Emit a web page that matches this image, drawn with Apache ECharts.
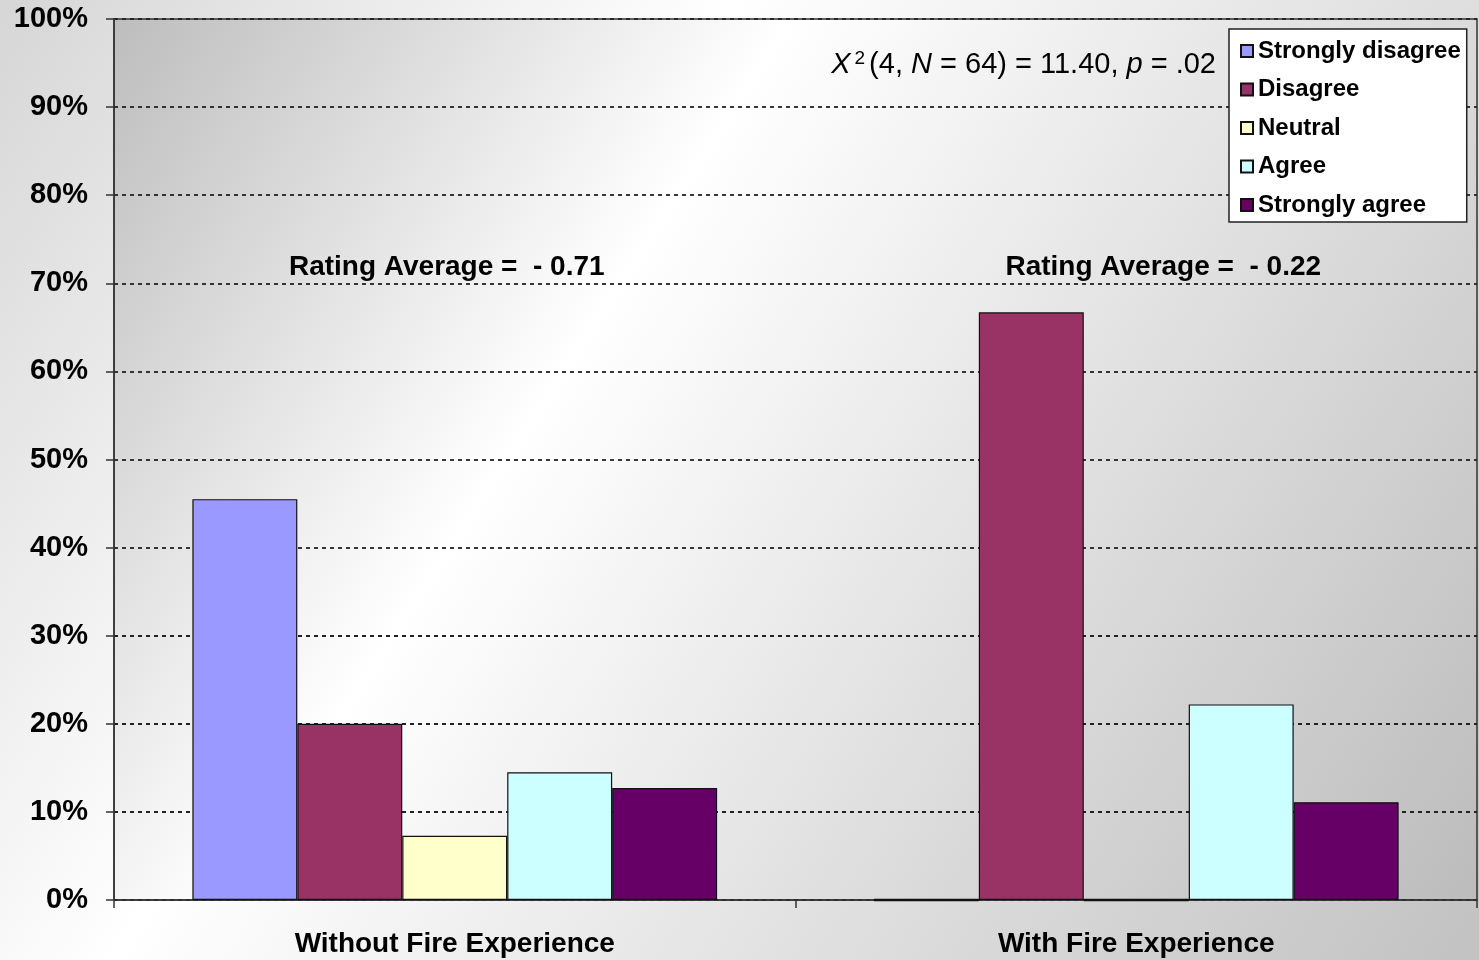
<!DOCTYPE html>
<html>
<head>
<meta charset="utf-8">
<script src="https://cdn.jsdelivr.net/npm/echarts@6/dist/echarts.min.js"></script>
<style>
  html, body { margin: 0; padding: 0; }
  #chart { width: 1479px; height: 960px; }
</style>
</head>
<body>
<div id="chart"></div>
<script>
// ---- data ----
var categories = ['Without Fire Experience', 'With Fire Experience'];
var seriesNames = ['Strongly disagree', 'Disagree', 'Neutral', 'Agree', 'Strongly agree'];
var stronglyDisagree = [45.5, 0];
var disagree = [20.0, 66.7];
var neutral = [7.3, 0];
var agree = [14.5, 22.2];
var stronglyAgree = [12.7, 11.1];
var ratingAverages = ['-0.71', '-0.22'];
var yTicks = [0, 10, 20, 30, 40, 50, 60, 70, 80, 90, 100];

var colors = ['#9999FF', '#993366', '#FFFFCC', '#CCFFFF', '#660066'];
var values = [stronglyDisagree, disagree, neutral, agree, stronglyAgree];

var FONT = 'Arial, "Liberation Sans", Helvetica, sans-serif';

var chart = echarts.init(document.getElementById('chart'));

var series = seriesNames.map(function (name, i) {
  return {
    name: name,
    type: 'bar',
    data: values[i].map(function (v) {
      return v === 0 ? { value: v, itemStyle: { borderWidth: 2.5 } } : v;
    }),
    barGap: '0%',
    barCategoryGap: '23%',
    itemStyle: { color: colors[i], borderColor: '#111', borderWidth: 1.2 },
    emphasis: { disabled: true },
    animation: false
  };
});

var option = {
  animation: false,
  backgroundColor: new echarts.graphic.LinearGradient(0, 0, 1, 1, [
    { offset: 0, color: '#d6d6d6' },
    { offset: 0.35, color: '#ffffff' },
    { offset: 1, color: '#c2c2c2' }
  ]),
  grid: {
    left: 114, top: 19, right: 2, bottom: 60,
    show: true,
    borderColor: '#333',
    borderWidth: 1.5,
    backgroundColor: new echarts.graphic.LinearGradient(0, 0, 1, 1, [
      { offset: 0, color: '#bdbdbd' },
      { offset: 0.35, color: '#ffffff' },
      { offset: 1, color: '#bcbcbc' }
    ])
  },
  legend: {
    orient: 'vertical',
    left: 1229,
    top: 29,
    padding: [10, 6, 5, 11],
    itemWidth: 12,
    itemHeight: 12,
    itemGap: 14.5,
    icon: 'rect',
    backgroundColor: '#ffffff',
    borderColor: '#222',
    borderWidth: 1.5,
    borderRadius: 0,
    data: seriesNames,
    textStyle: { fontFamily: FONT, fontWeight: 'bold', fontSize: 24, lineHeight: 24, color: '#000', padding: [0, 0, 0, 0] }
  },
  xAxis: {
    type: 'category',
    data: categories,
    axisLine: { lineStyle: { color: '#333', width: 1.5 } },
    axisTick: { show: true, length: 8, lineStyle: { color: '#333', width: 1.5 } },
    axisLabel: { fontFamily: FONT, fontWeight: 'bold', fontSize: 28, color: '#000', margin: 30 },
    splitLine: { show: false }
  },
  yAxis: {
    type: 'value',
    min: 0,
    max: 100,
    interval: 10,
    axisLine: { show: true, lineStyle: { color: '#333', width: 1.5 } },
    axisTick: { show: true, inside: false, length: 8, lineStyle: { color: '#333', width: 1.5 } },
    axisLabel: {
      fontFamily: FONT, fontWeight: 'bold', fontSize: 29, color: '#000', margin: 26,
      formatter: function (v) { return yTicks.indexOf(v) >= 0 ? v + '%' : ''; }
    },
    splitLine: { show: true, lineStyle: { color: '#222', width: 1.8, type: [4, 4] } }
  },
  series: series
};

chart.setOption(option);

// annotations
var p0 = chart.convertToPixel({ xAxisIndex: 0, yAxisIndex: 0 }, [0, 72.5]);
var p1 = chart.convertToPixel({ xAxisIndex: 0, yAxisIndex: 0 }, [1, 72.5]);
chart.setOption({
  graphic: [
    {
      type: 'text', x: p0[0] - 8, y: p0[1] + 6,
      style: {
        text: 'Rating Average =  ' + ratingAverages[0].replace('-', '- '),
        font: 'bold 28px ' + FONT, fill: '#000', align: 'center', verticalAlign: 'middle'
      }, silent: true
    },
    {
      type: 'text', x: p1[0] + 27, y: p1[1] + 6,
      style: {
        text: 'Rating Average =  ' + ratingAverages[1].replace('-', '- '),
        font: 'bold 28px ' + FONT, fill: '#000', align: 'center', verticalAlign: 'middle'
      }, silent: true
    },
    {
      type: 'text', x: 1216, y: 65,
      style: {
        text: '{i|X}{sup|2}{n|(4, }{i|N}{n| = 64) = 11.40, }{i|p}{n| = .02}',
        align: 'right', verticalAlign: 'middle',
        rich: {
          n: { font: '29px ' + FONT, fill: '#000' },
          i: { font: 'italic 29px ' + FONT, fill: '#000' },
          sup: { font: '19px ' + FONT, fill: '#000', verticalAlign: 'top', padding: [0, 4, 12, 4] }
        }
      }, silent: true
    }
  ]
});
</script>
</body>
</html>
